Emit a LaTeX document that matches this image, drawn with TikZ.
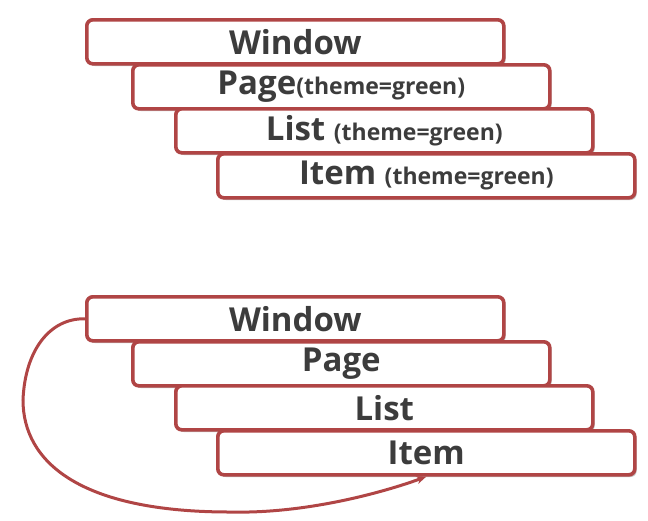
\documentclass[tikz,border=0pt]{standalone}
\usepackage{fontspec}
\setmainfont{Open Sans}
\usetikzlibrary{shadows,arrows.meta}
\definecolor{boxred}{HTML}{B04545}
\definecolor{txt}{HTML}{3C3C3C}
\tikzset{
  layer/.style={draw=boxred, line width=3.6pt, fill=white, rounded corners=6pt,
    minimum height=44pt, minimum width=417pt, inner sep=0pt, anchor=north west,
    drop shadow={shadow xshift=1.8pt, shadow yshift=-2.2pt, opacity=0.4, fill=black!60},
    font=\fontsize{33}{34}\selectfont\bfseries, text=txt},
  link/.style={draw=boxred, line width=3pt, -{Stealth[length=10pt,width=8pt]}}
}
\newcommand{\sm}[1]{{\fontsize{23}{24}\selectfont #1}}
\begin{document}
\begin{tikzpicture}[x=1pt,y=-1pt]
\useasboundingbox (0,0) rectangle (648,520);
% top group
\node[layer] (w1) at (85,18) {Window};
\node[layer] (p1) at (131,63) {Page\sm{(theme=green)}};
\node[layer] (l1) at (174,107) {List \sm{(theme=green)}};
\node[layer] (i1) at (216,152) {Item \sm{(theme=green)}};
% bottom group
\node[layer] (w2) at (85,295) {Window};
\node[layer] (p2) at (131,340) {Page};
\node[layer] (l2) at (174,384) {List};
\node[layer] (i2) at (216,429) {Item};
\draw[link] (w2.west) .. controls (50,318) and (25,350) .. (23,400)
  .. controls (23,462) and (80,512) .. (230,512)
  .. controls (310,514) and (390,490) .. (i2.south);
\end{tikzpicture}
\end{document}
